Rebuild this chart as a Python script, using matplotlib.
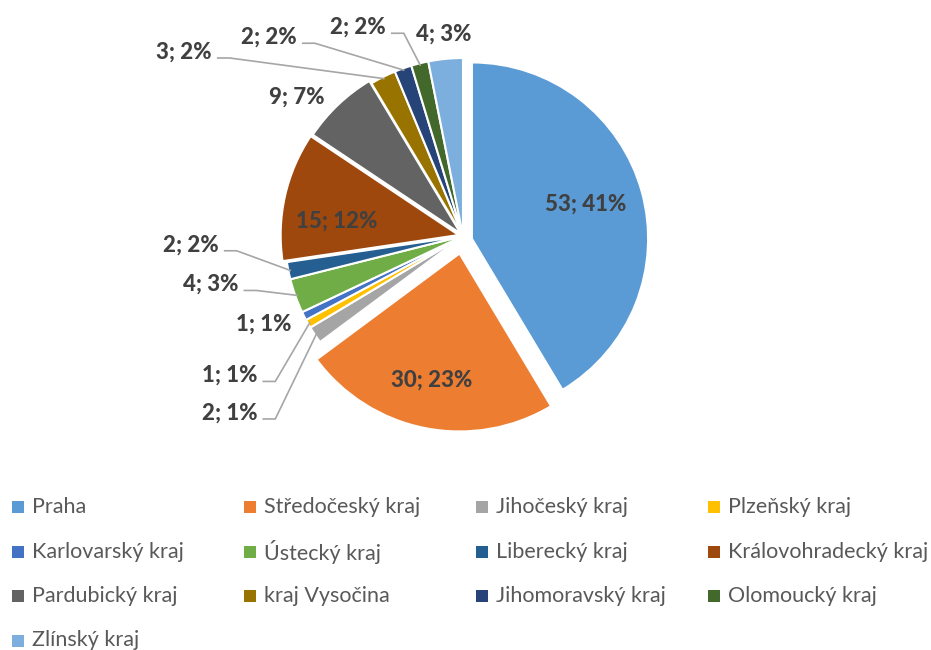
import matplotlib
matplotlib.use('Agg')
import matplotlib.pyplot as plt
from matplotlib.patches import Rectangle
import numpy as np

plt.rcParams['font.family'] = ['Lato', 'DejaVu Sans']

regions = ['Praha', 'Středočeský kraj', 'Jihočeský kraj', 'Plzeňský kraj',
           'Karlovarský kraj', 'Ústecký kraj', 'Liberecký kraj', 'Královohradecký kraj',
           'Pardubický kraj', 'kraj Vysočina', 'Jihomoravský kraj', 'Olomoucký kraj',
           'Zlínský kraj']
counts = [53, 30, 2, 1, 1, 4, 2, 15, 9, 3, 2, 2, 4]
shares = [41, 23, 1, 1, 1, 3, 2, 12, 7, 2, 2, 2, 3]
colors = ['#5B9BD5', '#ED7D31', '#A5A5A5', '#FFC000', '#4472C4', '#70AD47', '#255E91',
          '#9E480E', '#636363', '#997300', '#264478', '#43682B', '#7CAFDD']
explode = [0.05, 0.1, 0, 0, 0, 0, 0, 0.025, 0.018, 0, 0, 0, 0]

# label layout in pie-radius units: (x, y, has_leader)
# without leader: text centre; with leader: start of the leader line
label_pos = [(0.689, 0.178, False), (-0.178, -0.811, False), (-1.122, -1.028, True),
             (-1.122, -0.817, True), (-1.122, -0.494, False), (-1.228, -0.306, True),
             (-1.339, -0.083, True), (-0.711, 0.083, False), (-0.933, 0.778, False),
             (-1.378, 1.0, True), (-0.9, 1.083, True), (-0.4, 1.139, True),
             (-0.106, 1.133, False)]

W, H, R = 931, 650, 178.0
cx, cy = 463, 236

fig = plt.figure(figsize=(W / 100, H / 100), dpi=100)
ax = fig.add_axes([0, 0, 1, 1])

wedges, _ = ax.pie(counts, colors=colors, startangle=90, counterclock=False,
                   explode=explode, radius=1,
                   wedgeprops=dict(edgecolor='white', linewidth=1.5))
# Praha sits a bit lower than a plain explode would put it
wedges[0].set_center((0.05, -0.015))
wedges[0].set_radius(0.99)
ax.set_xlim(-cx / R, (W - cx) / R)
ax.set_ylim(-(H - cy) / R, cy / R)
ax.axis('off')

px = 1 / R
for w, c, s, (lx, ly, leader) in zip(wedges, counts, shares, label_pos):
    txt = f'{c}; {s}%'
    if leader:
        mid = np.deg2rad((w.theta1 + w.theta2) / 2)
        ex, ey = w.center[0] + 0.99 * np.cos(mid), w.center[1] + 0.99 * np.sin(mid)
        ax.plot([lx, lx + 12 * px, ex], [ly, ly, ey], color='#A6A6A6', lw=1.2,
                solid_joinstyle='miter')
        ax.text(lx - 6 * px, ly + 6 * px, txt, ha='right', va='center',
                fontsize=16, fontweight='black', color='#404040')
    else:
        ax.text(lx, ly, txt, ha='center', va='center',
                fontsize=16, fontweight='black', color='#404040')

# legend, 4 columns, row-major like Excel
for i, (name, col) in enumerate(zip(regions, colors)):
    x = 12 + (i % 4) * 232
    y = 507 + (i // 4) * 44.5
    fig.add_artist(Rectangle((x / W, 1 - (y + 6) / H), 12 / W, 12 / H,
                             transform=fig.transFigure, color=col, lw=0))
    fig.text((x + 20) / W, 1 - y / H, name, va='center', ha='left',
             fontsize=15.5, color='#595959')

fig.savefig('out.png', dpi=100, facecolor='white')
